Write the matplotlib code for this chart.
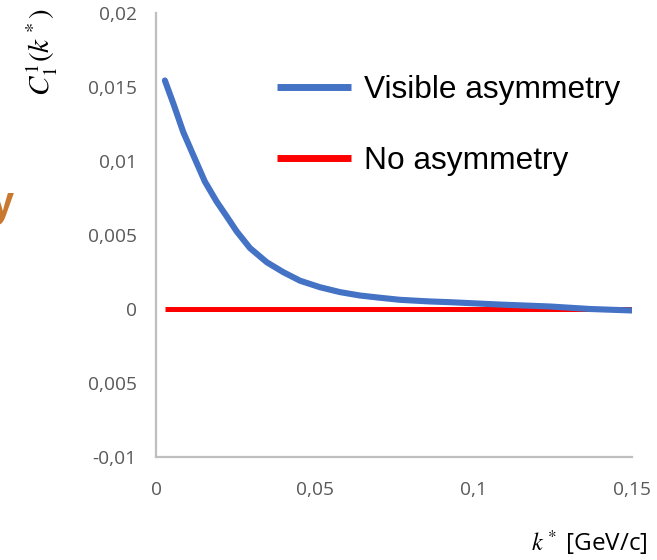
import matplotlib
matplotlib.use("Agg")
import matplotlib.pyplot as plt
from matplotlib.ticker import FixedLocator, FixedFormatter

# correlation function C_1^1 versus k*
k_star = [0.0028, 0.0055, 0.0086, 0.0118, 0.0154, 0.0191, 0.0223, 0.0254,
          0.0296, 0.0349, 0.0401, 0.0454, 0.0517, 0.0580, 0.0643, 0.0706,
          0.0769, 0.0863, 0.0927, 0.1084, 0.1241, 0.1368, 0.15]
c11_visible = [0.01544, 0.01386, 0.01195, 0.01037, 0.00861, 0.00726, 0.00625,
               0.00525, 0.00412, 0.00316, 0.00249, 0.00191, 0.00147, 0.00114,
               0.00091, 0.00076, 0.00062, 0.00051, 0.00046, 0.0003, 0.00017,
               0.0, -0.0001]
c11_none = [0.0, 0.0, 0.0, 0.0, 0.0, 0.0, 0.0, 0.0, 0.0, 0.0, 0.0, 0.0, 0.0,
            0.0, 0.0, 0.0, 0.0, 0.0, 0.0, 0.0, 0.0, 0.0, 0.0]

x_ticks = [0, 0.05, 0.1, 0.15]
x_labels = ["0", "0,05", "0,1", "0,15"]
y_ticks = [-0.01, -0.005, 0, 0.005, 0.01, 0.015, 0.02]
y_labels = ["-0,01", "0,005", "0", "0,005", "0,01", "0,015", "0,02"]

plt.rcParams["mathtext.fontset"] = "stix"
plt.rcParams["font.family"] = ["Open Sans", "DejaVu Sans"]

fig = plt.figure(figsize=(6.57, 5.60), dpi=100)
ax = fig.add_axes([156 / 657, 103 / 560, 476 / 657, 444 / 560])

ax.plot(k_star, c11_visible, color="#4472C4", lw=4.4,
        solid_capstyle="round", solid_joinstyle="round",
        label="Visible asymmetry", zorder=3)
ax.plot(k_star, c11_none, color="#FF0000", lw=3.6,
        solid_capstyle="butt", label="No asymmetry", zorder=2)

ax.set_xlim(0, 0.15)
ax.set_ylim(-0.01, 0.02)
ax.xaxis.set_major_locator(FixedLocator(x_ticks))
ax.xaxis.set_major_formatter(FixedFormatter(x_labels))
ax.yaxis.set_major_locator(FixedLocator(y_ticks))
ax.yaxis.set_major_formatter(FixedFormatter(y_labels))
ax.tick_params(length=0, labelsize=13.8, labelcolor="#595959")
ax.tick_params(axis="y", pad=14)
ax.tick_params(axis="x", pad=17)

for side in ("top", "right"):
    ax.spines[side].set_visible(False)
for side in ("left", "bottom"):
    ax.spines[side].set_color("#BFBFBF")
    ax.spines[side].set_linewidth(1.6)

leg = ax.legend(loc="upper left", bbox_to_anchor=(277 / 657, 1 - 75 / 560),
                bbox_transform=fig.transFigure, frameon=False,
                prop={"family": ["Liberation Sans"], "size": 22.8},
                handlelength=2.33, handletextpad=0.41, labelspacing=1.3,
                borderaxespad=0, borderpad=0)
for line in leg.get_lines():
    line.set_solid_capstyle("butt")
    line.set_linewidth(5)

fig.text(42 / 657, 1 - 52 / 560, r"$C_1^1(k^*)$", rotation=90,
         ha="center", va="center", fontsize=21)
fig.text(648 / 657, 1 - 543 / 560, r"$k^*$ [GeV/c]",
         ha="right", va="center", fontsize=17.5)
fig.text(14 / 657, 1 - 205 / 560, "y", ha="right", va="center",
         fontsize=30, fontweight="bold", color="#C8782F",
         family=["Liberation Sans"])

fig.savefig("out.png", dpi=100)
